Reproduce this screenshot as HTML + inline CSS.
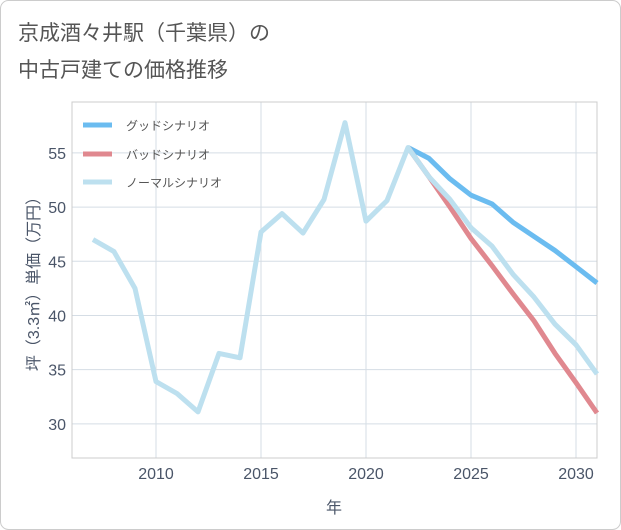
<!DOCTYPE html>
<html><head><meta charset="utf-8"><style>
body{margin:0;background:#fff;}
svg{display:block;font-family:"Liberation Sans","Noto Sans CJK JP",sans-serif;}
</style></head><body>
<svg id="c" width="621" height="530" xmlns="http://www.w3.org/2000/svg">
<rect x="0.5" y="0.5" width="620" height="529" rx="8" fill="#fff" stroke="#ccc"/>
<text x="18" y="40" font-size="21" fill="#555">京成酒々井駅（千葉県）の</text>
<text x="18" y="77" font-size="21" fill="#555">中古戸建ての価格推移</text>
<g id="grid"></g>
<rect x="72" y="102" width="525" height="356" fill="none" stroke="#ccc"/>
<g id="xt"></g>
<g id="yt"></g>
<g id="series"></g>
<text x="334" y="513" font-size="16" fill="#4a5568" text-anchor="middle">年</text>
<text transform="translate(39,280) rotate(-90)" font-size="16" fill="#4a5568" text-anchor="middle">坪（3.3㎡）単価（万円）</text>
<g>
<line x1="83" y1="125" x2="112" y2="125" stroke="#6bbcf0" stroke-width="5"/>
<text x="126" y="130" font-size="12" fill="#555">グッドシナリオ</text>
<line x1="83" y1="154" x2="112" y2="154" stroke="#e0888f" stroke-width="5"/>
<text x="126" y="159" font-size="12" fill="#555">バッドシナリオ</text>
<line x1="83" y1="182" x2="112" y2="182" stroke="#bde0ef" stroke-width="5"/>
<text x="126" y="187" font-size="12" fill="#555">ノーマルシナリオ</text>
</g>
</svg>
<script>
const normalYears=[2007,2008,2009,2010,2011,2012,2013,2014,2015,2016,2017,2018,2019,2020,2021,2022,2023,2024,2025,2026,2027,2028,2029,2030,2031];
const normalValues=[47,45.9,42.5,33.9,32.8,31.1,36.5,36.1,47.7,49.4,47.6,50.7,57.8,48.7,50.6,55.5,52.8,50.7,48.1,46.4,43.8,41.7,39.2,37.3,34.6];
const forecastYears=[2022,2023,2024,2025,2026,2027,2028,2029,2030,2031];
const goodValues=[55.5,54.5,52.6,51.1,50.3,48.6,47.3,46,44.5,43];
const badValues=[55.5,52.8,50,47.1,44.6,42,39.5,36.5,33.8,31];
const xTicks=[2010,2015,2020,2025,2030];
const yTicks=[30,35,40,45,50,55];
const X0=2006,X1=2031,PX0=72,PX1=597,Y0=26.85,Y1=59.7,PY0=458,PY1=102;
const xs=v=>PX0+(v-X0)/(X1-X0)*(PX1-PX0);
const ys=v=>PY0-(v-Y0)/(Y1-Y0)*(PY0-PY1);
const NS="http://www.w3.org/2000/svg";
function mk(t,a,p){const e=document.createElementNS(NS,t);for(const k in a)e.setAttribute(k,a[k]);p.appendChild(e);return e;}
const grid=document.getElementById('grid'),xt=document.getElementById('xt'),yt=document.getElementById('yt'),se=document.getElementById('series');
xTicks.forEach(t=>{
 const l=mk('line',{x1:xs(t),x2:xs(t),y1:PY1,y2:PY0,stroke:'#d5dde5'},grid);
 
 
 const tx=mk('text',{x:xs(t),y:479,'font-size':16,fill:'#4a5568','text-anchor':'middle'},xt);
 tx.textContent=t;
 
 
});
yTicks.forEach(t=>{
 const l=mk('line',{x1:PX0,x2:PX1,y1:ys(t),y2:ys(t),stroke:'#d5dde5'},grid);
 
 
 const tx=mk('text',{x:66,y:ys(t)+6,'font-size':16,fill:'#4a5568','text-anchor':'end'},yt);
 tx.textContent=t;
 
 
});
function line(xsArr,vals,col,name){
 const d=vals.map((v,i)=>(i?'L':'M')+xs(xsArr[i]).toFixed(1)+','+ys(v).toFixed(1)).join('');
 const p=mk('path',{d:d,fill:'none',stroke:col,'stroke-width':5,'stroke-linejoin':'round'},se);
 
 
}
line(forecastYears,goodValues,'#6bbcf0','good-scenario-line');
line(forecastYears,badValues,'#e0888f','bad-scenario-line');
line(normalYears,normalValues,'#bde0ef','normal-scenario-line');
</script>
</body></html>
